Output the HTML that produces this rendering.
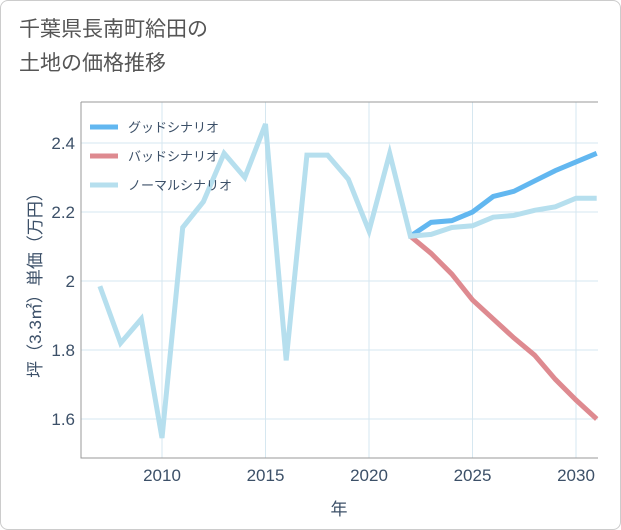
<!DOCTYPE html>
<html><head><meta charset="utf-8"><style>
body{margin:0;background:#fff;}
#wrap{position:relative;width:619px;height:528px;border:1px solid #ccc;border-radius:8px;overflow:hidden;background:#fff;font-family:"Liberation Sans","Noto Sans CJK JP",sans-serif;}
#title{position:absolute;left:18px;top:12px;font-size:21px;line-height:34px;color:#555;}
svg{position:absolute;left:0;top:0;}
</style></head><body>
<div id="wrap">
<div id="title">千葉県長南町給田の<br>土地の価格推移</div>
<svg id="chart" width="621" height="530"></svg>
</div>
<script>
const years=[2007,2008,2009,2010,2011,2012,2013,2014,2015,2016,2017,2018,2019,2020,2021,2022];
const history=[1.985,1.82,1.89,1.545,2.155,2.23,2.37,2.30,2.455,1.77,2.365,2.365,2.295,2.145,2.37,2.13];
const futureYears=[2022,2023,2024,2025,2026,2027,2028,2029,2030,2031];
const good=[2.13,2.17,2.175,2.2,2.245,2.26,2.29,2.32,2.345,2.37];
const bad=[2.13,2.08,2.02,1.945,1.89,1.835,1.785,1.715,1.655,1.6];
const normal=[2.13,2.135,2.155,2.16,2.185,2.19,2.205,2.215,2.24,2.24];
const xTicks=[2010,2015,2020,2025,2030];
const yTicks=[1.6,1.8,2,2.2,2.4];
const yTickLabels=["1.6","1.8","2","2.2","2.4"];
const seriesNames=["グッドシナリオ","バッドシナリオ","ノーマルシナリオ"];

const NS="http://www.w3.org/2000/svg";
const svg=document.getElementById('chart');
const L=80,R=597,T=101,B=457;
const x=v=>161+(v-2010)*(575-161)/20;
const y=v=>280-(v-2)*345;
function mk(tag,attrs,parent){const e=document.createElementNS(NS,tag);for(const k in attrs)e.setAttribute(k,attrs[k]);(parent||svg).appendChild(e);return e;}

yTicks.forEach((t,i)=>{
  const g=mk('line',{x1:L,x2:R,y1:y(t),y2:y(t),stroke:'#d6e7f0','stroke-width':1});
  
  
  const tx=mk('text',{x:L-6,y:y(t)+6,'text-anchor':'end','font-size':17,fill:'#3c5068'});
  tx.textContent=yTickLabels[i];
  
  
});
xTicks.forEach(t=>{
  const g=mk('line',{x1:x(t),x2:x(t),y1:T,y2:B,stroke:'#d6e7f0','stroke-width':1});
  
  
  const tx=mk('text',{x:x(t),y:B+23,'text-anchor':'middle','font-size':17,fill:'#3c5068'});
  tx.textContent=t;
  
  
});
const ax=mk('path',{d:`M${L},${T}H${R}M${L},${T}V${B}H${R}`,stroke:'#999',fill:'none','stroke-width':1});



function line(xs,vs,color,name){
  const p=mk('polyline',{points:xs.map((v,i)=>x(v)+','+y(vs[i])).join(' '),fill:'none',stroke:color,'stroke-width':5,'stroke-linejoin':'miter'});
  
  
}
const clip=mk('clipPath',{id:'pc'});mk('rect',{x:L,y:T,width:R-L,height:B-T},clip);
line(futureYears,bad,'#de8a90','bad-scenario-line');
line(futureYears,good,'#62b7f0','good-scenario-line');
line(years.concat(futureYears.slice(1)),history.concat(normal.slice(1)),'#b6dfee','normal-scenario-line');
svg.lastChild.setAttribute('clip-path','url(#pc)');

const colors=['#62b7f0','#de8a90','#b6dfee'];
seriesNames.forEach((n,i)=>{
  const yy=126+i*29;
  const l=mk('line',{x1:89,x2:117,y1:yy,y2:yy,stroke:colors[i],'stroke-width':5});
  
  
  const t=mk('text',{x:127,y:yy+5,'font-size':13,fill:'#3c5068'});
  t.textContent=n;
  
  
});
const xt=mk('text',{x:338,y:514,'text-anchor':'middle','font-size':17,fill:'#3c5068'});
xt.textContent='年';


const yt=mk('text',{x:0,y:0,'text-anchor':'middle','font-size':17,fill:'#3c5068',transform:'translate(40,280) rotate(-90)'});
yt.textContent='坪（3.3㎡）単価（万円）';


</script>
</body></html>
